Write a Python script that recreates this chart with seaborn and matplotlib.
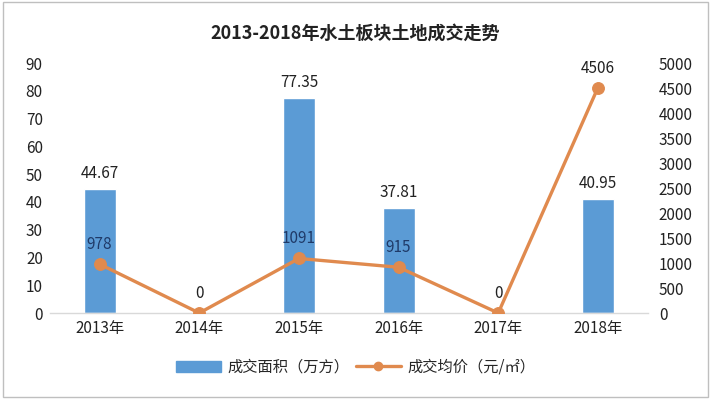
import pandas as pd
import seaborn as sns
import matplotlib.pyplot as plt
from matplotlib.lines import Line2D
from matplotlib.patches import Patch

# data
years = ["2013年", "2014年", "2015年", "2016年", "2017年", "2018年"]
area = [44.67, 0, 77.35, 37.81, 0, 40.95]
price = [978, 0, 1091, 915, 0, 4506]

sns.set_theme(style="white")
plt.rcParams['font.family'] = ['Noto Sans CJK SC', 'DejaVu Sans']
plt.rcParams['axes.unicode_minus'] = False

df = pd.DataFrame({"year": years, "area": area, "price": price})

bar_c = "#5B9BD5"
line_c = "#E08A4E"
txt_c = "#222222"

fig = plt.figure(figsize=(7.11, 3.99), dpi=100)
ax = fig.add_axes([0.070, 0.2155, 0.841, 0.6265])

sns.barplot(data=df, x="year", y="area", color=bar_c, width=0.32,
            saturation=1, ax=ax)
ax.set_ylim(0, 90)
ax.set_xlim(-0.5, 5.5)
ax.set_yticks(range(0, 91, 10))
ax.set_xlabel("")
ax.set_ylabel("")

ax2 = ax.twinx()
sns.lineplot(data=df, x="year", y="price", color=line_c, lw=2.4,
             marker="o", markersize=8.5, markeredgecolor=line_c, ax=ax2,
             sort=False)
ax2.set_ylim(0, 5000)
ax2.set_yticks(range(0, 5001, 500))
ax2.set_ylabel("")
ax2.set_xlim(-0.5, 5.5)

# labels
for i, v in enumerate(area):
    if v > 0:
        ax.annotate(f"{v:.2f}", (i, v), xytext=(0, 5), textcoords="offset points",
                    ha="center", va="bottom", fontsize=11, color=txt_c)
for i, v in enumerate(price):
    c = "#1F3A68" if area[i] > 0 and i != 5 else txt_c
    ax2.annotate(f"{v}", (i, v), xytext=(0, 8), textcoords="offset points",
                 ha="center", va="bottom", fontsize=11, color=c)

for a in (ax, ax2):
    for s in a.spines.values():
        s.set_visible(False)
    a.tick_params(length=0, labelsize=11, colors=txt_c)
ax.tick_params(axis="x", pad=5)
ax.tick_params(axis="y", pad=5)
ax2.tick_params(axis="y", pad=8)
ax.spines["bottom"].set_visible(True)
ax.spines["bottom"].set_color("#D9D9D9")
ax.spines["bottom"].set_linewidth(1)

fig.suptitle("2013-2018年水土板块土地成交走势", y=0.94, fontsize=13,
             fontweight="bold", color=txt_c)

handles = [Patch(facecolor=bar_c, edgecolor=bar_c),
           Line2D([0], [0], color=line_c, lw=2.4, marker="o", markersize=6)]
fig.legend(handles, ["成交面积（万方）", "成交均价（元/㎡）"], loc="center",
           bbox_to_anchor=(0.5, 0.08), ncol=2, frameon=False, fontsize=11,
           handlelength=3, columnspacing=0.4, handletextpad=0.4)

fig.patches.append(plt.Rectangle((0.004, 0.005), 0.992, 0.99, transform=fig.transFigure,
                                 fill=False, edgecolor="#BFBFBF", lw=1))

fig.savefig("out.png", dpi=100)
